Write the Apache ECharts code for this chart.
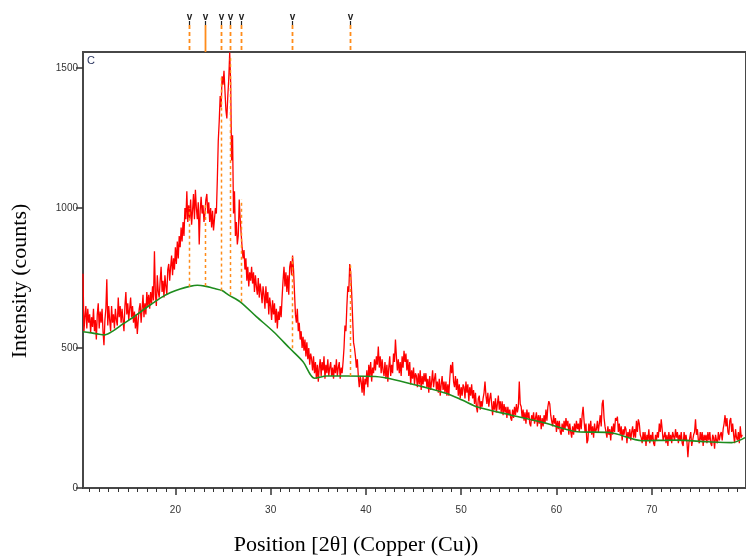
<!DOCTYPE html>
<html>
<head>
<meta charset="utf-8">
<script src="https://cdn.jsdelivr.net/npm/echarts@6/dist/echarts.min.js"></script>
<style>html,body{margin:0;padding:0;background:#fff}#c{width:746px;height:557px}</style>
</head>
<body>
<div id="c"></div>
<script>
// Scan grid (2θ, degrees)
const startAngle = 10.3;
const stepAngle = 0.1;
// Measured intensity (counts), one row per degree, each row starting at N.3
const intensity = [
  765, 560, 610, 650, 570, 640, 590, 620, 555, 610,
  575, 640, 560, 600, 530, 620, 660, 570, 630, 590,
  640, 560, 510, 600, 640, 745, 580, 650, 600, 560,
  650, 590, 620, 570, 640, 600, 580, 680, 610, 650,
  590, 640, 600, 560, 650, 700, 620, 660, 600, 640,
  680, 610, 650, 590, 630, 570, 620, 550, 600, 640,
  660, 590, 640, 690, 610, 660, 620, 700, 650, 690,
  640, 700, 660, 720, 670, 845, 690, 650, 760, 700,
  680, 740, 790, 700, 740, 680, 760, 720, 690, 780,
  800, 740, 790, 830, 760, 820, 780, 860, 800, 880,
  820, 900, 860, 930, 880, 950, 900, 1000, 960, 1060,
  950, 1010, 960, 1030, 940, 990, 1050, 960, 1065, 1000,
  960, 1020, 870, 990, 1040, 980, 1010, 950, 980, 1030,
  1050, 980, 1020, 950, 1000, 930, 990, 920, 960, 1000,
  980, 1100, 1240, 1310, 1400, 1360, 1470, 1440, 1490, 1420,
  1350, 1320, 1400, 1460, 1555, 1450, 1170, 1260, 980, 1060,
  900, 950, 870, 900, 1030, 960, 910, 860, 820, 850,
  780, 820, 740, 790, 720, 770, 740, 790, 730, 770,
  700, 760, 720, 690, 750, 680, 730, 700, 660, 720,
  690, 640, 720, 660, 700, 620, 680, 650, 600, 670,
  620, 660, 590, 640, 570, 630, 600, 650, 610, 680,
  740, 790, 720, 770, 700, 760, 690, 790, 810, 760,
  830, 780, 700, 620, 590, 640, 560, 590, 530, 560,
  500, 540, 490, 530, 470, 520, 460, 500, 440, 480,
  460, 420, 470, 410, 450, 390, 440, 380, 430, 460,
  400, 450, 420, 470, 390, 440, 410, 460, 400, 430,
  450, 400, 430, 390, 440, 410, 460, 400, 430, 450,
  390, 430, 410, 450, 500, 580, 560, 650, 720, 700,
  800, 770, 700, 610, 520, 500, 470, 430, 460, 400,
  360, 400, 380, 340, 400, 330, 390, 370, 420, 360,
  440, 400, 450, 380, 430, 410, 460, 420, 470, 440,
  505, 430, 470, 410, 460, 420, 400, 450, 390, 440,
  380, 430, 470, 400, 440, 410, 480, 450, 530, 470,
  420, 460, 410, 450, 400, 470, 430, 490, 450, 480,
  420, 460, 400, 450, 370, 420, 390, 430, 370, 410,
  400, 360, 410, 370, 420, 350, 400, 370, 410, 380,
  410, 360, 390, 340, 400, 350, 380, 420, 360, 390,
  410, 350, 380, 340, 390, 330, 370, 400, 350, 380,
  340, 380, 330, 370, 330, 390, 440, 410, 450, 380,
  360, 400, 350, 390, 330, 370, 320, 360, 330, 370,
  360, 320, 380, 340, 370, 310, 360, 330, 370, 320,
  350, 300, 340, 290, 270, 320, 330, 280, 310, 290,
  320, 340, 380, 330, 300, 340, 290, 320, 340, 300,
  260, 310, 280, 320, 270, 300, 330, 280, 310, 270,
  310, 260, 300, 270, 290, 250, 290, 260, 280, 250,
  240, 280, 250, 290, 260, 300, 270, 290, 380, 300,
  290, 250, 280, 240, 270, 230, 280, 250, 270, 230,
  220, 260, 240, 270, 230, 250, 270, 220, 260, 230,
  260, 210, 250, 220, 260, 230, 280, 240, 290, 310,
  300, 260, 240, 220, 260, 230, 250, 200, 240, 210,
  240, 200, 190, 230, 200, 240, 210, 250, 220, 240,
  190, 230, 200, 180, 220, 190, 230, 200, 240, 210,
  230, 200, 250, 210, 260, 290, 240, 200, 230, 160,
  170, 230, 200, 240, 190, 220, 180, 230, 200, 210,
  240, 200, 230, 260, 220, 300, 315, 250, 220, 200,
  180, 220, 190, 210, 170, 220, 190, 230, 200, 250,
  240, 255, 200, 230, 190, 220, 170, 210, 190, 220,
  210, 160, 200, 180, 210, 170, 200, 220, 180, 210,
  180, 240, 200, 245, 230, 190, 180, 160, 200, 170,
  200, 150, 190, 170, 210, 160, 190, 170, 200, 160,
  150, 190, 170, 200, 180, 230, 200, 245, 210, 170,
  170, 200, 160, 190, 150, 200, 170, 190, 160, 200,
  200, 170, 210, 180, 200, 160, 190, 170, 200, 160,
  150, 200, 170, 190, 165, 110, 160, 180, 200, 150,
  150, 190, 200, 245, 190, 210, 170, 160, 200, 170,
  200, 150, 190, 170, 190, 160, 200, 170, 200, 160,
  150, 190, 180, 140, 190, 170, 160, 200, 170, 190,
  200, 170, 210, 230, 260, 220, 250, 200, 190, 240,
  250, 200, 230, 190, 160, 210, 180, 170, 200, 160,
  220, 180, 190
];
// Background curve
const bgAngles = [10.3, 11, 12, 12.6, 13.5, 14.5, 15.5, 16.5, 17.5, 18.5, 19.5, 20.5, 21.5, 22.3, 23.1, 24.0, 24.9, 25.6, 26.8, 28.5, 30.3, 32.0, 33.4, 34.6, 35.9, 38.1, 41.0, 43.1, 45.9, 48.4, 50.1, 51.8, 55.2, 58.7, 62.2, 65.6, 69.0, 72.5, 75.9, 78.4, 79.8];
const bgValues = [558, 555, 549, 547, 562, 586, 608, 633, 657, 680, 698, 711, 720, 724, 721, 713, 705, 689, 665, 612, 558, 499, 451, 392, 400, 400, 398, 386, 362, 338, 314, 288, 261, 233, 201, 198, 169, 171, 165, 162, 180];
// Identified peak positions
const peakAngles = [21.4, 23.1, 24.8, 25.7, 26.9, 32.2, 38.3];
const peakBase = [719, 721, 705, 689, 665, 499, 400];
const peakTop = [1000, 1020, 1470, 1540, 1030, 825, 795];
const peakSolid = [0, 1, 0, 0, 0, 0, 0];
// Axis ticks
const majorTicks = [20, 30, 40, 50, 60, 70];
const minorTicks = [11, 12, 13, 14, 15, 16, 17, 18, 19, 21, 22, 23, 24, 25, 26, 27, 28, 29, 31, 32, 33, 34, 35, 36, 37, 38, 39, 41, 42, 43, 44, 45, 46, 47, 48, 49, 51, 52, 53, 54, 55, 56, 57, 58, 59, 61, 62, 63, 64, 65, 66, 67, 68, 69, 71, 72, 73, 74, 75, 76, 77, 78, 79];

const redData = intensity.map((v, i) => [+(startAngle + i * stepAngle).toFixed(2), v]);
const bgData = bgAngles.map((a, i) => [a, bgValues[i]]);
const peakData = peakAngles.map((a, i) => [a, peakBase[i], peakTop[i], peakSolid[i]]);

const chart = echarts.init(document.getElementById('c'), null, {renderer: 'canvas'});
const axisColor = '#474747';
chart.setOption({
  animation: false,
  backgroundColor: '#fff',
  grid: {left: 83, top: 52, right: -3, bottom: 69, show: true, borderColor: axisColor, borderWidth: 2},
  xAxis: [{
    type: 'value', min: 10.3, max: 79.9,
    axisLine: {show: true, lineStyle: {color: axisColor, width: 2}},
    axisTick: {show: true, customValues: majorTicks, length: 7, lineStyle: {color: '#333', width: 1.5}},
    axisLabel: {customValues: majorTicks, color: '#333', fontSize: 10, fontFamily: 'Liberation Sans, Arial', margin: 17},
    splitLine: {show: false}
  }, {
    type: 'value', min: 10.3, max: 79.9, position: 'bottom',
    axisLine: {show: false},
    axisTick: {show: true, customValues: minorTicks, length: 4, lineStyle: {color: '#333', width: 1}},
    axisLabel: {show: false},
    splitLine: {show: false}
  }],
  yAxis: {
    type: 'value', min: 0, max: 1557, interval: 500,
    axisLine: {show: true, lineStyle: {color: axisColor, width: 2}},
    axisTick: {show: true, length: 7, lineStyle: {color: '#333', width: 1.5}},
    axisLabel: {color: '#333', fontSize: 10, fontFamily: 'Liberation Sans, Arial', margin: 5, showMaxLabel: false,
      formatter: function (v) { return String(v); }},
    splitLine: {show: false}
  },
  graphic: [
    {type: 'text', left: 87, top: 55, style: {text: 'C', fill: '#2a3560', font: '11px Liberation Sans, Arial'}},
    {type: 'text', x: 20, y: 281, rotation: Math.PI / 2,
     style: {text: 'Intensity (counts)', fill: '#000', font: '22px Liberation Serif, Times New Roman', align: 'center', verticalAlign: 'middle'}},
    {type: 'text', x: 356, y: 545, style: {text: 'Position [2θ] (Copper (Cu))', fill: '#000', font: '22px Liberation Serif, Times New Roman', align: 'center', verticalAlign: 'middle'}}
  ],
  series: [{
    type: 'line', data: redData, showSymbol: false, symbol: 'none',
    lineStyle: {color: '#ff0000', width: 1.3}, z: 2
  }, {
    type: 'line', data: bgData, showSymbol: false, symbol: 'none', smooth: 0.3,
    lineStyle: {color: '#1e8c1e', width: 1.6}, z: 3
  }, {
    type: 'custom', data: peakData, clip: false, z: 4,
    renderItem: function (params, api) {
      const a = api.value(0);
      const pb = api.coord([a, api.value(1)]);
      const pt = api.coord([a, api.value(2)]);
      const cs = params.coordSys;
      const solid = api.value(3) === 1;
      const x = Math.round(pb[0]) + 0.5;
      return {
        type: 'group',
        children: [
          {type: 'line', shape: {x1: x, y1: pb[1], x2: x, y2: pt[1]},
           style: {stroke: '#ff8c1a', lineWidth: 1.5, lineDash: [3, 3]}},
          {type: 'line', shape: {x1: x, y1: cs.y - 27, x2: x, y2: cs.y},
           style: {stroke: '#ff8c1a', lineWidth: 1.8, lineDash: solid ? null : [4, 3]}},
          {type: 'line', shape: {x1: x, y1: cs.y - 31, x2: x, y2: cs.y - 27},
           style: {stroke: '#222', lineWidth: 1.2}},
          {type: 'text', x: x, y: cs.y - 30,
           style: {text: 'v', fill: '#222', font: 'bold 10px Liberation Sans, Arial', align: 'center', verticalAlign: 'bottom'}}
        ]
      };
    }
  }]
});
</script>
</body>
</html>
